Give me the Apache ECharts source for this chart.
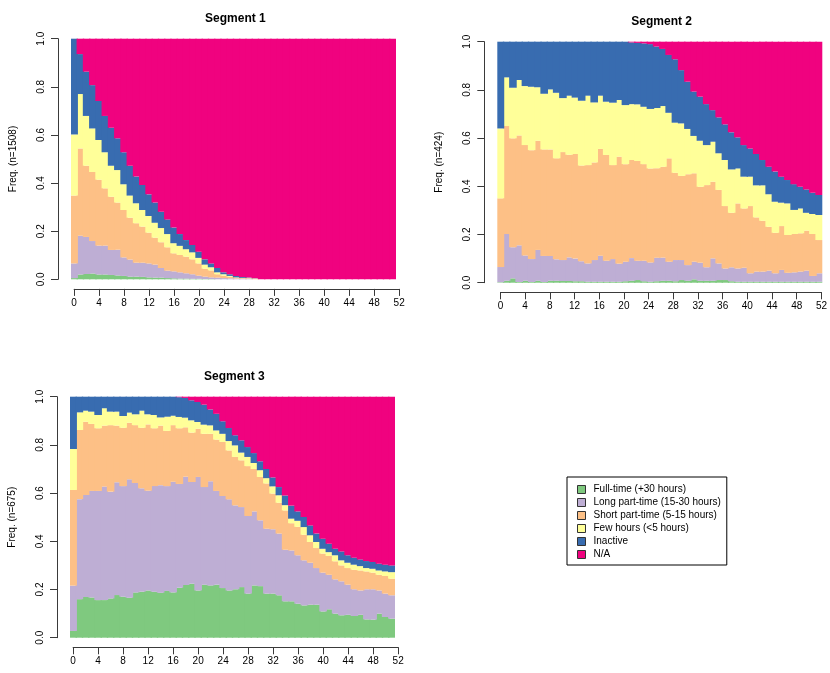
<!DOCTYPE html>
<html>
<head>
<meta charset="utf-8">
<script src="https://cdn.jsdelivr.net/npm/echarts@6/dist/echarts.min.js"></script>
<style>
html,body{margin:0;padding:0;background:#fff;}
#chart{width:830px;height:673px;}
</style>
</head>
<body>
<div id="chart"></div>
<script>
// time points (bars) 0..51
const categories = ["0","1","2","3","4","5","6","7","8","9","10","11","12","13","14","15","16","17","18","19","20","21","22","23","24","25","26","27","28","29","30","31","32","33","34","35","36","37","38","39","40","41","42","43","44","45","46","47","48","49","50","51"];

const stateNames = ["Full-time (+30 hours)","Long part-time (15-30 hours)","Short part-time (5-15 hours)","Few hours (<5 hours)","Inactive","N/A"];
const stateColors = ["#7FC97F","#BEAED4","#FDC086","#FFFF99","#386CB0","#F0027F"];

const panelTitles = ["Segment 1","Segment 2","Segment 3"];
const yTitles = ["Freq. (n=1508)","Freq. (n=424)","Freq. (n=675)"];

// ---------- Segment 1 ----------
const s1Full = [.005,.020,.022,.024,.020,.020,.018,.016,.014,.011,.011,.010,.008,.007,.007,.005,.004,.003,.003,.002,.002,.001,.001,0,0,0,0,0,0,0,0,0,0,0,0,0,0,0,0,0,0,0,0,0,0,0,0,0,0,0,0,0];
const s1Long = [.061,.161,.154,.135,.120,.120,.104,.107,.077,.071,.058,.059,.058,.054,.040,.031,.029,.026,.022,.019,.013,.010,.007,.007,.005,.004,.003,.002,.002,0,0,0,0,0,0,0,0,0,0,0,0,0,0,0,0,0,0,0,0,0,0,0];
const s1Short = [.282,.363,.296,.287,.274,.238,.221,.196,.197,.174,.164,.150,.128,.112,.107,.097,.075,.072,.069,.062,.051,.033,.029,.014,.010,.007,.004,.003,.002,.001,0,0,0,0,0,0,0,0,0,0,0,0,0,0,0,0,0,0,0,0,0,0];
const s1Few = [.254,.226,.207,.181,.165,.150,.129,.135,.107,.092,.083,.069,.069,.062,.059,.055,.042,.038,.031,.029,.023,.017,.013,.008,.006,.003,.001,.001,.001,.002,0,0,0,0,0,0,0,0,0,0,0,0,0,0,0,0,0,0,0,0,0,0];
const s1Inactive = [.398,.166,.184,.180,.162,.151,.158,.132,.133,.124,.111,.104,.090,.084,.068,.061,.065,.049,.038,.031,.026,.022,.016,.018,.008,.007,.006,.004,.002,.001,0,0,0,0,0,0,0,0,0,0,0,0,0,0,0,0,0,0,0,0,0,0];
const s1NA = [0,.064,.137,.193,.259,.321,.370,.414,.472,.528,.573,.608,.647,.681,.719,.751,.785,.812,.837,.857,.885,.917,.934,.953,.971,.979,.986,.990,.993,.996,1,1,1,1,1,1,1,1,1,1,1,1,1,1,1,1,1,1,1,1,1,1];

// ---------- Segment 2 ----------
const s2Full = [.002,.008,.018,.003,.008,.003,.008,.003,.008,.008,.007,.007,.006,.006,.004,.004,.004,.004,.004,.004,.006,.008,.011,.006,.004,.006,.008,.008,.006,.011,.008,.014,.008,.008,.008,.011,.011,.006,.004,.004,.004,.004,.004,.004,.004,.004,.004,.004,.004,.004,.004,.004];
const s2Long = [.063,.194,.129,.152,.105,.095,.128,.108,.103,.089,.087,.098,.094,.083,.076,.090,.108,.087,.094,.075,.081,.094,.080,.085,.080,.098,.096,.079,.088,.083,.065,.073,.075,.056,.093,.069,.048,.058,.055,.058,.035,.042,.042,.046,.035,.049,.037,.039,.042,.046,.024,.035];
const s2Short = [.285,.448,.452,.456,.458,.452,.453,.442,.442,.419,.448,.426,.434,.397,.408,.405,.443,.439,.390,.444,.405,.407,.414,.401,.390,.371,.377,.429,.362,.349,.377,.367,.315,.341,.318,.305,.259,.226,.270,.246,.279,.225,.211,.182,.168,.182,.157,.159,.159,.166,.174,.138];
const s2Few = [.290,.202,.210,.230,.245,.263,.222,.231,.249,.272,.224,.245,.234,.269,.288,.249,.221,.221,.259,.235,.245,.232,.235,.238,.247,.250,.252,.189,.208,.218,.188,.155,.191,.166,.166,.152,.191,.180,.145,.132,.122,.133,.147,.135,.129,.097,.131,.100,.103,.074,.083,.104];
const s2Inactive = [.360,.148,.191,.159,.184,.187,.189,.216,.198,.212,.234,.224,.232,.245,.224,.252,.224,.249,.253,.242,.263,.256,.255,.263,.269,.255,.237,.240,.263,.221,.196,.184,.183,.170,.131,.149,.148,.154,.129,.131,.117,.130,.105,.114,.125,.108,.097,.107,.090,.097,.088,.083];
const s2NA = [0,0,0,0,0,0,0,0,0,0,0,0,0,0,0,0,0,0,0,0,0,.003,.005,.007,.010,.020,.030,.055,.073,.118,.166,.207,.228,.259,.284,.314,.343,.376,.397,.429,.443,.466,.491,.519,.539,.560,.574,.591,.602,.613,.627,.636];

// ---------- Segment 3 ----------
const s3Full = [.028,.160,.169,.167,.156,.156,.163,.177,.170,.166,.188,.191,.196,.191,.187,.194,.188,.207,.219,.224,.196,.220,.217,.220,.206,.196,.201,.210,.183,.217,.214,.183,.183,.176,.151,.151,.141,.134,.137,.137,.109,.118,.100,.093,.095,.090,.095,.076,.075,.100,.086,.079];
const s3Long = [.188,.415,.423,.442,.453,.471,.443,.468,.459,.491,.454,.429,.414,.438,.446,.435,.459,.431,.449,.422,.471,.405,.432,.389,.382,.378,.348,.332,.322,.307,.273,.269,.267,.256,.214,.211,.201,.187,.174,.152,.161,.143,.142,.141,.125,.111,.101,.125,.126,.096,.097,.097];
const s3Short = [.397,.287,.304,.278,.260,.253,.276,.235,.242,.235,.240,.251,.275,.240,.247,.229,.235,.231,.205,.205,.200,.221,.197,.213,.224,.203,.201,.194,.207,.176,.180,.188,.148,.128,.163,.113,.118,.106,.086,.083,.079,.078,.075,.066,.069,.081,.083,.074,.069,.065,.073,.069];
const s3Few = [.170,.073,.046,.051,.055,.072,.056,.058,.049,.042,.045,.071,.042,.055,.034,.059,.039,.047,.040,.051,.028,.038,.035,.038,.034,.039,.048,.032,.038,.025,.028,.022,.030,.031,.022,.019,.025,.032,.028,.025,.020,.016,.025,.021,.022,.021,.018,.014,.016,.018,.019,.027];
const s3Inactive = [.217,.065,.058,.062,.076,.048,.062,.062,.080,.066,.073,.058,.073,.076,.086,.083,.079,.082,.082,.083,.083,.083,.066,.069,.052,.054,.042,.051,.041,.041,.037,.038,.037,.034,.040,.054,.039,.042,.041,.035,.042,.035,.027,.037,.031,.029,.028,.029,.028,.028,.028,.028];
const s3NA = [0,0,0,0,0,0,0,0,0,0,0,0,0,0,0,0,0,.002,.005,.015,.022,.033,.053,.071,.102,.130,.160,.181,.209,.234,.268,.300,.335,.375,.410,.452,.476,.499,.534,.568,.589,.610,.631,.642,.658,.668,.675,.682,.686,.693,.697,.700];

const segments = [
  [s1Full, s1Long, s1Short, s1Few, s1Inactive, s1NA],
  [s2Full, s2Long, s2Short, s2Few, s2Inactive, s2NA],
  [s3Full, s3Long, s3Short, s3Few, s3Inactive, s3NA]
];

// layout (pixels)
const layout = [
  {left: 71,    top: 38.7, height: 240.6},
  {left: 497.3, top: 41.7, height: 241},
  {left: 70,    top: 396.7, height: 241}
];
const barW = 6.25;
const plotW = barW * categories.length;
const axisGap = 9.6;

const FONT = "'Liberation Sans', Arial, Helvetica, sans-serif";
const axisColor = '#3a3a3a';

const grid = [], xAxis = [], yAxis = [], series = [], title = [];

layout.forEach((p, i) => {
  // bar grid
  grid.push({left: p.left, top: p.top, width: plotW, height: p.height, containLabel: false});
  // tick-axis grid (R style axis from first to last label position)
  grid.push({left: p.left + barW / 2, top: p.top + p.height + axisGap - 10, width: plotW, height: 10, containLabel: false});

  xAxis.push({
    gridIndex: 2 * i, type: 'category', data: categories, show: false, boundaryGap: true
  });
  xAxis.push({
    gridIndex: 2 * i + 1, type: 'value', min: 0, max: 52, interval: 4, position: 'bottom',
    axisLine: {show: true, lineStyle: {color: axisColor, width: 1}},
    axisTick: {show: true, length: 7, inside: false, lineStyle: {color: axisColor, width: 1}},
    axisLabel: {show: true, fontSize: 10, color: '#000', margin: 9, fontFamily: FONT, showMinLabel: true, showMaxLabel: true},
    splitLine: {show: false}
  });
  yAxis.push({
    gridIndex: 2 * i, type: 'value', min: 0, max: 1, interval: 0.2, offset: 13, position: 'left',
    axisLine: {show: true, lineStyle: {color: axisColor, width: 1}},
    axisTick: {show: true, length: 7, lineStyle: {color: axisColor, width: 1}},
    axisLabel: {show: true, rotate: 90, fontSize: 10, color: '#000', margin: 12, fontFamily: FONT,
      formatter: v => v.toFixed(1)},
    splitLine: {show: false},
    name: yTitles[i], nameLocation: 'middle', nameGap: 40, nameRotate: 90,
    nameTextStyle: {fontSize: 10, color: '#000', fontFamily: FONT}
  });
  yAxis.push({gridIndex: 2 * i + 1, type: 'value', min: 0, max: 1, show: false});

  title.push({
    text: panelTitles[i], left: p.left + plotW / 2 - barW / 2, top: p.top - 31, textAlign: 'center',
    textStyle: {fontSize: 12, fontWeight: 'bold', color: '#000', fontFamily: FONT}
  });

  segments[i].forEach((vals, k) => {
    series.push({
      name: stateNames[k], type: 'bar', stack: 'seg' + i,
      xAxisIndex: 2 * i, yAxisIndex: 2 * i,
      data: vals, barWidth: 7.6, barGap: '-100%',
      itemStyle: {color: stateColors[k], borderWidth: 0},
      emphasis: {disabled: true}, silent: true, animation: false
    });
  });
});

const chart = echarts.init(document.getElementById('chart'), null, {renderer: 'canvas'});
chart.setOption({
  backgroundColor: '#fff',
  animation: false,
  textStyle: {fontFamily: FONT},
  title: title,
  grid: grid,
  xAxis: xAxis,
  yAxis: yAxis,
  legend: {
    data: stateNames, orient: 'vertical', left: 567, top: 477,
    icon: 'rect', itemWidth: 8, itemHeight: 8, itemGap: 0,
    borderColor: '#000', borderWidth: 1, borderRadius: 0,
    padding: [6, 6, 4, 10],
    itemStyle: {borderColor: '#333', borderWidth: 1},
    textStyle: {fontSize: 10, color: '#000', lineHeight: 13, fontFamily: FONT, padding: [0, 0, 0, 3]},
    selectedMode: false
  },
  series: series
});
</script>
</body>
</html>
